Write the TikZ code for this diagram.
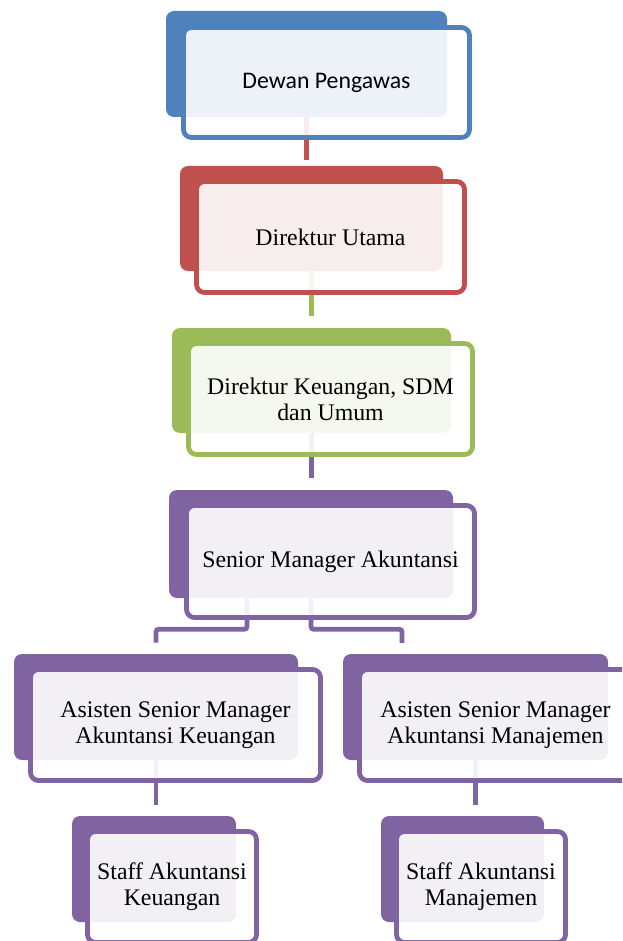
\documentclass[tikz,border=0pt]{standalone}
\usepackage{fontspec}
\setmainfont{Liberation Serif}
\newfontfamily\calibri{Carlito}
\usepackage{tikz}
\usetikzlibrary{calc}
\definecolor{orgblue}{RGB}{79, 129, 189}
\definecolor{orgred}{RGB}{192, 80, 77}
\definecolor{orggreen}{RGB}{155, 187, 89}
\definecolor{orgpurple}{RGB}{128, 100, 162}
\pgfdeclarelayer{background}
\pgfsetlayers{background,main}

\begin{document}
\begin{tikzpicture}[x=0.75pt, y=-0.75pt,
  back/.style={fill=#1, rounded corners=6pt, inner sep=0pt},
  front/.style={draw=#1, line width=3.6pt, fill=white, fill opacity=0.9, text opacity=1,
    rounded corners=6pt, inner sep=0pt, align=center, font=\fontsize{17.85}{19.3}\selectfont},
  conn/.style={draw=#1, line width=3.6pt, rounded corners=2pt}]
\useasboundingbox (0,0) rectangle (622,941);
\clip (0,0) rectangle (622,941);

% Level 1: Dewan Pengawas
\node[back=orgblue, minimum width=210.75pt, minimum height=79.5pt] (bk1) at (306.5,64) {};
\node[front=orgblue, minimum width=214.5pt, minimum height=82.5pt] (fr1) at (326.5,82.5) {\calibri Dewan Pengawas};

% Level 2: Direktur Utama
\node[back=orgred, minimum width=197.25pt, minimum height=78.75pt] (bk2) at (311.5,218.5) {};
\node[front=orgred, minimum width=201pt, minimum height=83.25pt] (fr2) at (330.5,237) {Direktur Utama};

% Level 3: Direktur Keuangan
\node[back=orggreen, minimum width=209.25pt, minimum height=78.75pt] (bk3) at (311.5,380.5) {};
\node[front=orggreen, minimum width=213pt, minimum height=83.25pt] (fr3) at (330.5,399) {Direktur Keuangan, SDM\\dan Umum};

% Level 4: Senior Manager
\node[back=orgpurple, minimum width=213pt, minimum height=81pt] (bk4) at (311,544) {};
\node[front=orgpurple, minimum width=216pt, minimum height=84pt] (fr4) at (330.5,561.5) {Senior Manager Akuntansi};

% Level 5: two assistants
\node[back=orgpurple, minimum width=213pt, minimum height=79.5pt] (bk5) at (156,707) {};
\node[front=orgpurple, minimum width=217.5pt, minimum height=83.25pt] (fr5) at (175.5,725) {Asisten Senior Manager\\Akuntansi Keuangan};
\node[back=orgpurple, minimum width=198.75pt, minimum height=79.5pt] (bk6) at (475.5,707) {};
\node[front=orgpurple, minimum width=204pt, minimum height=83.25pt] (fr6) at (495.5,725) {Asisten Senior Manager\\Akuntansi Manajemen};

% Level 6: staff
\node[back=orgpurple, minimum width=123pt, minimum height=79.5pt] (bk7) at (154,869) {};
\node[front=orgpurple, minimum width=126.75pt, minimum height=83.25pt] (fr7) at (172,887) {Staff Akuntansi\\Keuangan};
\node[back=orgpurple, minimum width=122.25pt, minimum height=79.5pt] (bk8) at (462.5,869) {};
\node[front=orgpurple, minimum width=126.75pt, minimum height=83.25pt] (fr8) at (481,887) {Staff Akuntansi\\Manajemen};

\coordinate (j6) at (402,643);

% Connectors behind the boxes
\begin{pgfonlayer}{background}
\draw[conn=orgred] (bk1.south) -- ($(bk1.south |- bk2.north)+(0,-6)$);
\draw[conn=orggreen] (bk2.south) -- ($(bk2.south |- bk3.north)+(0,-12)$);
\draw[conn=orgpurple] (bk3.south) -- ($(bk3.south |- bk4.north)+(0,-12)$);
\draw[conn=orgpurple] ($(bk4.south)+(-64,0)$) -- ++(0,31) -| ($(bk5.north)+(0,-11)$);
\draw[conn=orgpurple] (bk4.south) -- ++(0,31) -| (j6);
\draw[conn=orgpurple] (bk5.south) -- ($(bk5.south |- bk7.north)+(0,-11)$);
\draw[conn=orgpurple] (bk6.south) -- ($(bk6.south |- bk8.north)+(0,-11)$);
\end{pgfonlayer}
\end{tikzpicture}
\end{document}
